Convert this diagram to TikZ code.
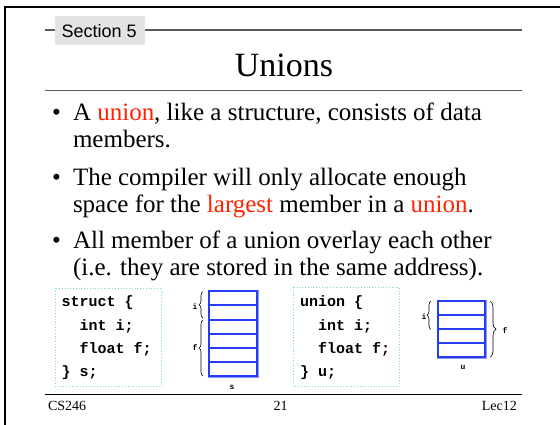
\documentclass[tikz,border=0pt]{standalone}
\usepackage{fontspec}
\setmainfont{Liberation Serif}
\newfontfamily\arialf{Liberation Sans}
\newfontfamily\courf{Liberation Mono}
\usetikzlibrary{decorations.pathreplacing}
\definecolor{hired}{RGB}{255,35,0}
\definecolor{memblue}{RGB}{40,60,245}
\definecolor{memlight}{RGB}{140,155,250}
\definecolor{codeframe}{RGB}{120,220,205}
\definecolor{secgray}{RGB}{227,227,227}
\definecolor{rulegray}{RGB}{90,90,90}
\newcommand{\hl}[1]{\textcolor{hired}{#1}}
\begin{document}
\begin{tikzpicture}[x=1pt,y=-1pt,
  txt/.style={anchor=base west,inner sep=0pt,outer sep=0pt},
  bul/.style={txt,font=\fontsize{25}{25}\selectfont},
  code/.style={txt,font=\courf\bfseries\fontsize{15}{15}\selectfont},
  tiny/.style={anchor=center,inner sep=0pt,font=\courf\bfseries\fontsize{8}{8}\selectfont},
  foot/.style={anchor=base,inner sep=0pt,font=\fontsize{14}{14}\selectfont},
  codebox/.style={draw=codeframe,line width=0.8pt,dotted},
  cell/.style={draw=memblue,line width=2pt},
  memframe/.style={draw=memlight,line width=1pt},
  brc/.style={decorate,decoration={brace,amplitude=#1},line width=0.6pt},
  brc/.default=4pt]
\clip (0,0) rectangle (560,424);
\fill[white] (0,0) rectangle (560,424);
% frame
\draw[line width=2pt,black] (5,440) -- (5,7) -- (580,7);
% section header
\draw[rulegray,line width=1.2pt] (45,30) coordinate (sl) -- (522,30) coordinate (sr);
\node[fill=secgray,minimum width=90pt,minimum height=29pt,inner sep=0pt,anchor=north west] (secbox) at (55,16) {};
\node[txt,font=\arialf\fontsize{18}{18}\selectfont] (sec) at (61.5,37) {Section 5};
% title
\node[anchor=base,inner sep=0pt,font=\fontsize{34}{34}\selectfont] (title) at (284,76) {Unions};
\draw[rulegray,line width=1.2pt] (45,90.7) coordinate (tl) -- (522,90.7) coordinate (tr);
% bullets
\node[bul] (b1) at (52,120) {\textbullet};
\node[bul] (t1) at (73,120) {A \hl{union}, like a structure, consists of data};
\node[bul] (t1b) at (73,147) {members.};
\node[bul] (b2) at (52,185) {\textbullet};
\node[bul] (t2) at (73,185) {The compiler will only allocate enough};
\node[bul] (t2b) at (73,212) {space for the \hl{largest} member in a \hl{union}.};
\node[bul] (b3) at (52,248.5) {\textbullet};
\node[bul] (t3) at (73,248.5) {All member of a union overlay each other};
\node[bul] (t3b) at (73,275.5) {(i.e. they are stored in the same address).};
% struct code
\draw[codebox] (55,288) rectangle (161,386);
\node[code] (s1) at (61.7,306.7) {struct \{};
\node[code] (s2) at (61.7,330) {\ \ int i;};
\node[code] (s3) at (61.7,353.3) {\ \ float f;};
\node[code] (s4) at (61.7,376.7) {\} s;};
% struct memory
\draw[memframe] (208,290) rectangle (258,377);
\draw[cell] (209,291) rectangle (257,376);
\foreach \yy in {305,320,334,348,362} {
  \draw[cell] (209,\yy) -- (257,\yy);
}
\draw[brc] (203,318) -- (203,291.5);
\draw[brc] (203,376) -- (203,320);
\node[tiny] (si) at (195,307) {i};
\node[tiny] (sf) at (195,348) {f};
\node[tiny] (ss) at (232,387) {s};
% union code
\draw[codebox] (293.3,287) rectangle (399.3,386);
\node[code] (u1) at (300,306.7) {union \{};
\node[code] (u2) at (300,330) {\ \ int i;};
\node[code] (u3) at (300,353.3) {\ \ float f;};
\node[code] (u4) at (300,376.7) {\} u;};
% union memory
\draw[memframe] (437,300) rectangle (486,358);
\draw[cell] (438,301) rectangle (485,357);
\foreach \yy in {315,329,343} {
  \draw[cell] (438,\yy) -- (485,\yy);
}
\draw[brc] (431,329.5) -- (431,301);
\draw[brc=6pt] (490,301) -- (490,357.3);
\node[tiny] (ui) at (424,317) {i};
\node[tiny] (uf) at (505,331) {f};
\node[tiny] (uu) at (463,367) {u};
% footer
\draw[black,line width=1pt] (45,394) coordinate (fl) -- (522,394) coordinate (fr);
\node[txt,font=\fontsize{14}{14}\selectfont] (cs) at (48,410) {CS246};
\node[foot] (pg) at (280.5,410) {21};
\node[anchor=base east,inner sep=0pt,font=\fontsize{14}{14}\selectfont] (lec) at (517,410) {Lec12};
\end{tikzpicture}
\end{document}
